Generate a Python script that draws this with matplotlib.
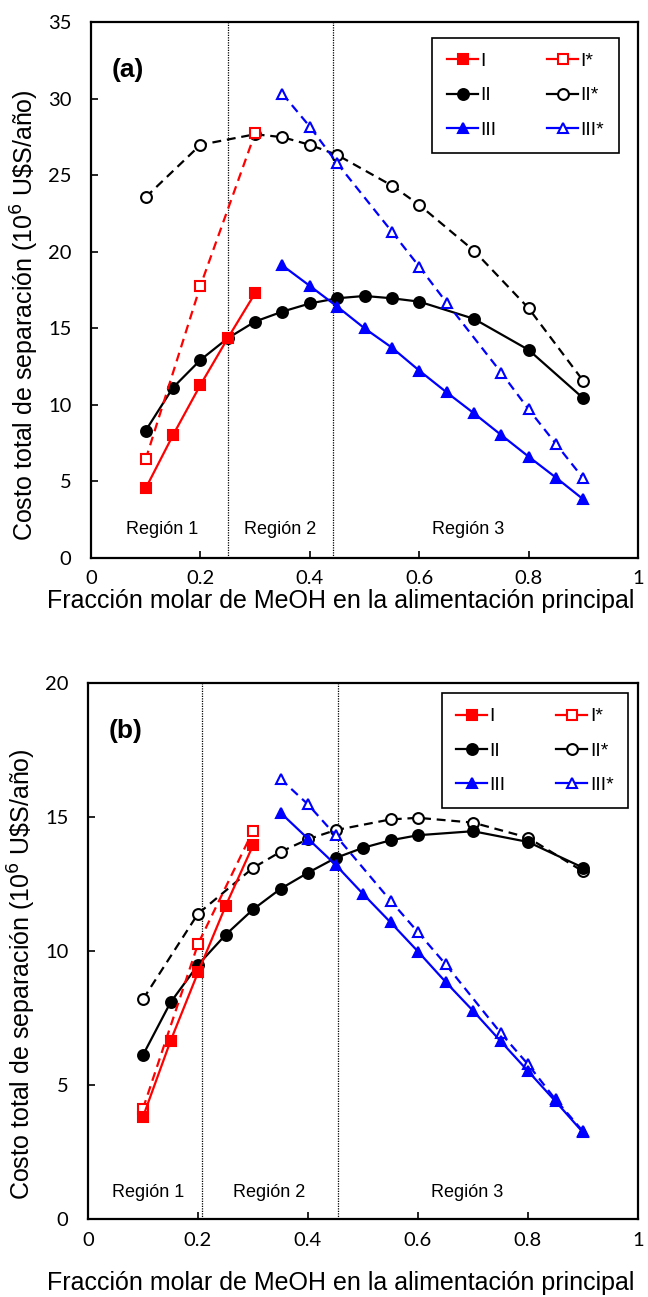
import matplotlib
matplotlib.use("Agg")
import matplotlib.pyplot as plt
from matplotlib.lines import Line2D

# ---------------- Panel (a) data ----------------
a_I_x = [0.10, 0.15, 0.20, 0.25, 0.30]
a_I_y = [4.55, 8.03, 11.3, 14.35, 17.29]
a_Is_x = [0.10, 0.20, 0.30]
a_Is_y = [6.45, 17.77, 27.74]
a_II_x = [0.10, 0.15, 0.20, 0.25, 0.30, 0.35, 0.40, 0.45, 0.50, 0.55, 0.60, 0.70, 0.80, 0.90]
a_II_y = [8.32, 11.13, 12.93, 14.35, 15.44, 16.09, 16.62, 16.96, 17.11, 16.96, 16.74, 15.62, 13.59, 10.43]
a_IIs_x = [0.10, 0.20, 0.30, 0.35, 0.40, 0.45, 0.55, 0.60, 0.70, 0.80, 0.90]
a_IIs_y = [23.56, 26.98, 27.67, 27.48, 26.98, 26.32, 24.32, 23.06, 20.07, 16.31, 11.56]
a_III_x = [0.35, 0.40, 0.45, 0.50, 0.55, 0.60, 0.65, 0.70, 0.75, 0.80, 0.85, 0.90]
a_III_y = [19.1, 17.77, 16.42, 15.0, 13.74, 12.24, 10.82, 9.45, 8.03, 6.62, 5.25, 3.83]
a_IIIs_x = [0.35, 0.40, 0.45, 0.55, 0.60, 0.65, 0.75, 0.80, 0.85, 0.90]
a_IIIs_y = [30.31, 28.17, 25.78, 21.31, 19.03, 16.68, 12.1, 9.71, 7.45, 5.2]

# ---------------- Panel (b) data ----------------
b_I_x = [0.10, 0.15, 0.20, 0.25, 0.30]
b_I_y = [3.81, 6.64, 9.2, 11.67, 13.94]
b_Is_x = [0.10, 0.20, 0.30]
b_Is_y = [4.12, 10.26, 14.48]
b_II_x = [0.10, 0.15, 0.20, 0.25, 0.30, 0.35, 0.40, 0.45, 0.50, 0.55, 0.60, 0.70, 0.80, 0.90]
b_II_y = [6.12, 8.08, 9.48, 10.6, 11.55, 12.32, 12.92, 13.47, 13.85, 14.13, 14.32, 14.47, 14.07, 13.11]
b_IIs_x = [0.10, 0.20, 0.30, 0.35, 0.40, 0.45, 0.55, 0.60, 0.70, 0.80, 0.90]
b_IIs_y = [8.2, 11.39, 13.1, 13.7, 14.17, 14.51, 14.91, 14.97, 14.79, 14.23, 12.97]
b_III_x = [0.35, 0.40, 0.45, 0.50, 0.55, 0.60, 0.65, 0.70, 0.75, 0.80, 0.85, 0.90]
b_III_y = [15.16, 14.19, 13.22, 12.13, 11.07, 9.98, 8.85, 7.77, 6.64, 5.52, 4.39, 3.23]
b_IIIs_x = [0.35, 0.40, 0.45, 0.55, 0.60, 0.65, 0.75, 0.80, 0.85, 0.90]
b_IIIs_y = [16.42, 15.47, 14.32, 11.88, 10.7, 9.51, 6.95, 5.77, 4.46, 3.27]

labels = ["I", "I*", "II", "II*", "III", "III*"]
x_ticks = [0, 0.2, 0.4, 0.6, 0.8, 1.0]
x_ticklabels = ["0", "0.2", "0.4", "0.6", "0.8", "1"]
region_labels = ["Región 1", "Región 2", "Región 3"]

a_bounds = [0.25, 0.443]
b_bounds = [0.207, 0.455]
a_region_x = [0.13, 0.345, 0.69]
b_region_x = [0.11, 0.33, 0.69]

xlabel = "Fracción molar de MeOH en la alimentación principal"
ylabel = "Costo total de separación (10$^6$ U\\$S/año)"

LABEL_FONT = ["Liberation Sans", "DejaVu Sans"]
TICK_FONT = ["Lato", "DejaVu Sans"]

fig = plt.figure(figsize=(6.48, 12.97), dpi=100)
ax_a = fig.add_axes([91/648, (1297-558)/1297, 547/648, 536/1297])
ax_b = fig.add_axes([88/648, (1297-1219)/1297, 550/648, 536/1297])

RED = "#ff0000"
BLUE = "#0000ff"
BLK = "#000000"
DASH = (0, (4, 2.6))

# style per series: colour, marker, filled, dashed
STYLES = {
    "I": (RED, "s", True, False),
    "I*": (RED, "s", False, True),
    "II": (BLK, "o", True, False),
    "II*": (BLK, "o", False, True),
    "III": (BLUE, "^", True, False),
    "III*": (BLUE, "^", False, True),
}
ZORD = {"I": 4, "I*": 4, "II": 3, "II*": 3, "III": 5, "III*": 5}


def draw(ax, series, ymax, yticks, bounds, region_x, region_y, panel, leg_anchor,
         xlabelpad, xlab_x, ylab_y):
    lw = 1.6
    ms = 7.8
    mew = 1.5
    proxies = {}
    for name in ["II*", "II", "I*", "I", "III*", "III"]:
        xs, ys = series[name]
        col, mk, filled, dashed = STYLES[name]
        ax.plot(xs, ys, color=col, lw=lw, ls=DASH if dashed else "-", marker=mk, ms=ms,
                mfc=col if filled else "white", mec=col, mew=mew, zorder=ZORD[name])
        proxies[name] = Line2D([], [], color=col, lw=lw, ls="-", marker=mk, ms=ms,
                               mfc=col if filled else "white", mec=col, mew=mew)

    for b in bounds:
        ax.axvline(b, color="black", lw=0.9, ls=(0, (1, 1)), zorder=1)

    for rx, rt in zip(region_x, region_labels):
        ax.text(rx, region_y, rt, ha="center", va="center", fontsize=13, family=LABEL_FONT)

    ax.text(0.038, 0.91, panel, transform=ax.transAxes, fontsize=19, fontweight="bold",
            family=LABEL_FONT, ha="left", va="center")

    ax.set_xlim(0, 1)
    ax.set_ylim(0, ymax)
    ax.set_xticks(x_ticks)
    ax.set_xticklabels(x_ticklabels)
    ax.set_yticks(yticks)
    ax.tick_params(direction="in", length=5, width=1.2, labelsize=14.5, top=False, right=False)
    ax.tick_params(axis="y", pad=14)
    ax.tick_params(axis="x", pad=9)
    for lab in ax.get_xticklabels() + ax.get_yticklabels():
        lab.set_family(TICK_FONT)
    for s in ax.spines.values():
        s.set_linewidth(1.6)
        s.set_color("black")

    ax.set_xlabel(xlabel, fontsize=18, family=LABEL_FONT, labelpad=xlabelpad)
    ax.set_ylabel(ylabel, fontsize=18, family=LABEL_FONT, labelpad=5)
    ax.xaxis.label.set_x(xlab_x)
    ax.yaxis.label.set_y(ylab_y)

    order = ["I", "II", "III", "I*", "II*", "III*"]
    leg = ax.legend([proxies[k] for k in order], order, ncol=2, loc="upper right",
                    bbox_to_anchor=leg_anchor, borderaxespad=0, fancybox=False,
                    framealpha=1, edgecolor="black", handlelength=1.6,
                    handletextpad=0.12, columnspacing=2.6, labelspacing=0.85,
                    borderpad=0.75, prop={"family": LABEL_FONT, "size": 14})
    leg.get_frame().set_linewidth(1.2)


series_a = {"I": (a_I_x, a_I_y), "I*": (a_Is_x, a_Is_y), "II": (a_II_x, a_II_y),
            "II*": (a_IIs_x, a_IIs_y), "III": (a_III_x, a_III_y), "III*": (a_IIIs_x, a_IIIs_y)}
series_b = {"I": (b_I_x, b_I_y), "I*": (b_Is_x, b_Is_y), "II": (b_II_x, b_II_y),
            "II*": (b_IIs_x, b_IIs_y), "III": (b_III_x, b_III_y), "III*": (b_IIIs_x, b_IIIs_y)}

draw(ax_a, series_a, 35, [0, 5, 10, 15, 20, 25, 30, 35], a_bounds, a_region_x, 1.85, "(a)",
     (0.965, 0.970), 1, 0.457, 0.453)
draw(ax_b, series_b, 20, [0, 5, 10, 15, 20], b_bounds, b_region_x, 1.0, "(b)",
     (0.982, 0.981), 16, 0.46, 0.456)

fig.savefig("out.png", dpi=100)
